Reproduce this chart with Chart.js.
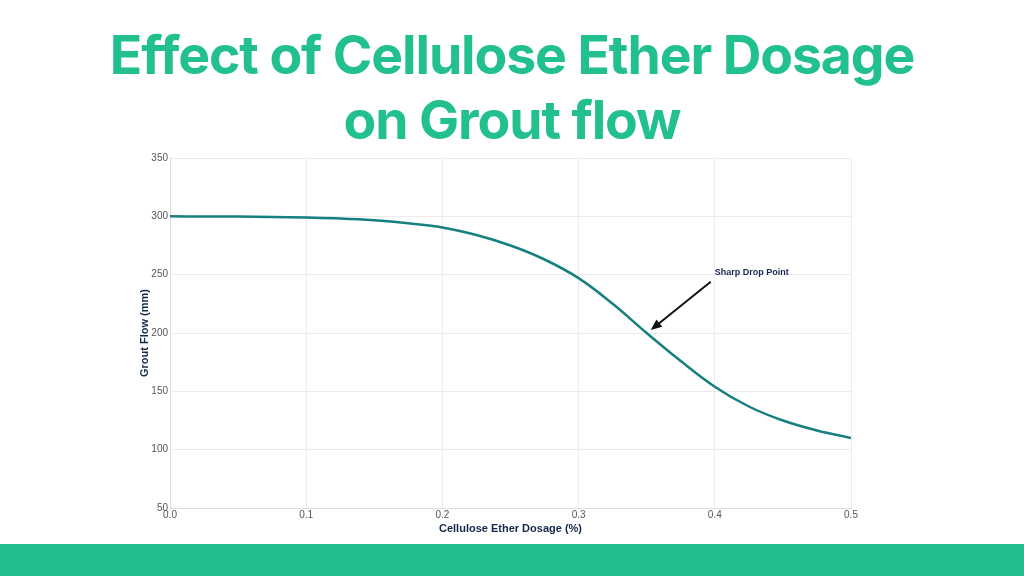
<!DOCTYPE html>
<html>
<head>
<meta charset="utf-8">
<script src="https://cdn.jsdelivr.net/npm/chart.js@4"></script>
<style>
  html, body { margin: 0; padding: 0; background: #fff; }
  body { width: 1024px; height: 576px; position: relative; overflow: hidden; }
  #title {
    position: absolute; left: 0; top: 22px; width: 1024px;
    text-align: center; color: #22bf8f;
    font-family: Inter, sans-serif; font-weight: 700;
    font-size: 53.5px; line-height: 65px; letter-spacing: -1.1px;
  }
  #wrap { position: absolute; left: 0; top: 0; width: 1024px; height: 576px; }
  #band { position: absolute; left: 0; top: 544px; width: 1024px; height: 32px; background: #20bd8f; }
</style>
</head>
<body>
<div id="wrap"><canvas id="flow-chart"></canvas></div>
<div id="title">Effect of Cellulose Ether Dosage<br>on Grout flow</div>
<div id="band"></div>
<script>
const ctx = document.getElementById('flow-chart');
const COLOR_LINE = '#167f80';
const COLOR_NAVY = '#13294b';

const dosage = [0, 0.025, 0.05, 0.075, 0.1, 0.125, 0.15, 0.175, 0.2, 0.225, 0.25,
                0.275, 0.3, 0.325, 0.35, 0.375, 0.4, 0.425, 0.45, 0.475, 0.5];
const groutFlow = [300, 299.9, 299.8, 299.5, 299, 298.2, 296.6, 294, 290.5, 284, 275,
                   263, 247, 225, 200, 176, 154, 137, 125, 116.5, 110];
const xTickLabels = ['0.0', '0.1', '0.2', '0.3', '0.4', '0.5'];
const yTickLabels = ['50', '100', '150', '200', '250', '300', '350'];

// annotation: label position and arrow tail/head, in data units
const noteText = 'Sharp Drop Point';
const noteLabel = [0.4, 252];
const noteTail = [0.397, 244];
const noteHead = [0.353, 202.5];

const annotation = {
    id: 'annotation',
    afterDatasetsDraw(chart) {
        const x = chart.scales.x, y = chart.scales.y, c = chart.ctx;
        const tx = x.getPixelForValue(noteTail[0]), ty = y.getPixelForValue(noteTail[1]);
        const hx = x.getPixelForValue(noteHead[0]), hy = y.getPixelForValue(noteHead[1]);
        const ang = Math.atan2(hy - ty, hx - tx);
        c.save();
        c.strokeStyle = '#111';
        c.fillStyle = '#111';
        c.lineWidth = 2;
        c.beginPath();
        c.moveTo(tx, ty);
        c.lineTo(hx - 8 * Math.cos(ang), hy - 8 * Math.sin(ang));
        c.stroke();
        c.beginPath();
        c.moveTo(hx, hy);
        c.lineTo(hx - 12 * Math.cos(ang - 0.4), hy - 12 * Math.sin(ang - 0.4));
        c.lineTo(hx - 12 * Math.cos(ang + 0.4), hy - 12 * Math.sin(ang + 0.4));
        c.closePath();
        c.fill();
        c.fillStyle = COLOR_NAVY;
        c.font = 'bold 9px "Liberation Sans", Arial, sans-serif';
        c.textBaseline = 'middle';
        c.fillText(noteText, x.getPixelForValue(noteLabel[0]), y.getPixelForValue(noteLabel[1]));
        c.restore();
    }
};

new Chart(ctx, {
    type: 'line',
    data: {
        datasets: [{
            data: dosage.map((d, i) => ({x: d, y: groutFlow[i]})),
            borderColor: COLOR_LINE,
            borderWidth: 2.5,
            pointRadius: 0,
            fill: false,
            tension: 0.4
        }]
    },
    options: {
        responsive: true,
        maintainAspectRatio: false,
        animation: false,
        layout: { padding: { left: 138, top: 158, right: 173, bottom: 36 } },
        plugins: { legend: { display: false }, tooltip: { enabled: false } },
        scales: {
            x: {
                type: 'linear',
                min: 0,
                max: 0.5,
                afterFit(scale) { scale.height = 32; },
                grid: { color: '#ececec', drawTicks: false },
                border: { color: '#dedede' },
                ticks: {
                    stepSize: 0.1,
                    padding: 1,
                    color: '#555',
                    font: { size: 10, family: '"Liberation Sans", Arial, sans-serif' },
                    callback: (v) => xTickLabels[Math.round(v * 10)]
                },
                title: {
                    display: true,
                    text: 'Cellulose Ether Dosage (%)',
                    color: COLOR_NAVY,
                    padding: { top: 0, bottom: 4 },
                    font: { size: 11, weight: 'bold', family: '"Liberation Sans", Arial, sans-serif' }
                }
            },
            y: {
                min: 50,
                max: 350,
                afterFit(scale) { scale.width = 32; },
                grid: { color: '#ececec', drawTicks: false },
                border: { color: '#dedede' },
                ticks: {
                    stepSize: 50,
                    padding: 2,
                    color: '#555',
                    font: { size: 10, family: '"Liberation Sans", Arial, sans-serif' },
                    callback: (v) => yTickLabels[Math.round((v - 50) / 50)]
                },
                title: {
                    display: true,
                    text: 'Grout Flow (mm)',
                    color: COLOR_NAVY,
                    padding: 0,
                    font: { size: 11, weight: 'bold', family: '"Liberation Sans", Arial, sans-serif' }
                }
            }
        }
    },
    plugins: [annotation]
});
</script>
</body>
</html>
